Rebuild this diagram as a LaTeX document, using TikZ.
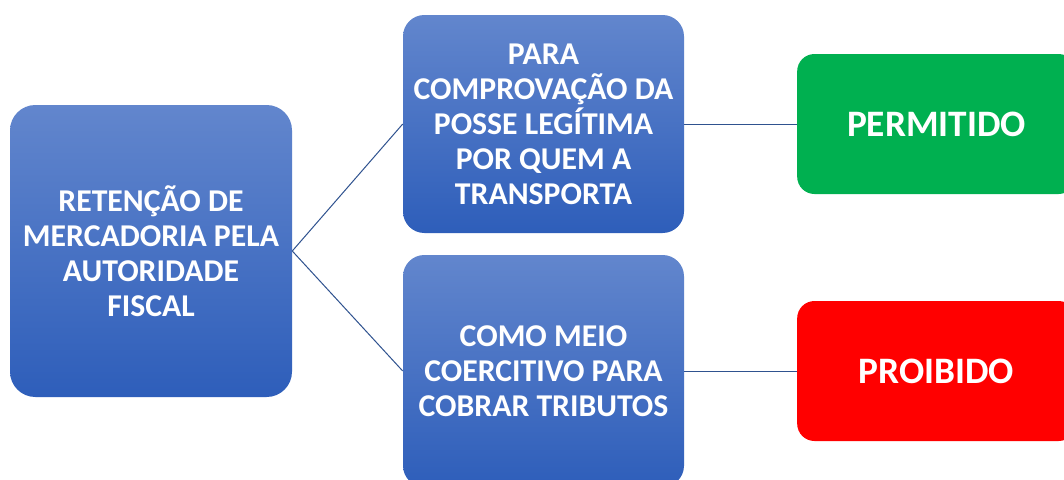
\documentclass[tikz,border=0pt]{standalone}
\usepackage{fontspec}
\setmainfont{Carlito}
\definecolor{bluetop}{RGB}{98,134,205}
\definecolor{bluebot}{RGB}{46,94,186}
\definecolor{linecol}{RGB}{47,82,143}
\definecolor{okgreen}{RGB}{0,176,80}
\definecolor{nored}{RGB}{255,0,0}
\tikzset{
  bluebox/.style={shade, top color=bluetop, bottom color=bluebot, draw=none,
    text=white, font=\bfseries\fontsize{23.8pt}{26.25pt}\selectfont, align=center,
    inner sep=0pt},
  flagbox/.style={draw=none, text=white, font=\bfseries\fontsize{28pt}{32pt}\selectfont,
    inner sep=0pt, minimum width=209pt, minimum height=105pt, rounded corners=13pt},
  link/.style={draw=linecol, line width=0.75pt}
}
\begin{document}
\begin{tikzpicture}[x=0.75pt,y=-0.75pt]
\clip (0,0) rectangle (1064,479);
\fill[white] (0,0) rectangle (1064,479);
\node[bluebox, minimum width=211.5pt, minimum height=219pt, rounded corners=19pt] (L) at (151,251)
  {RETENÇÃO DE\\MERCADORIA PELA\\AUTORIDADE\\FISCAL};
\node[bluebox, minimum width=210.75pt, minimum height=163.5pt, rounded corners=16pt] (T) at (543.5,124)
  {PARA\\COMPROVAÇÃO DA\\POSSE LEGÍTIMA\\POR QUEM A\\TRANSPORTA};
\node[bluebox, minimum width=210.75pt, minimum height=174pt, rounded corners=16pt] (B) at (543.5,371)
  {COMO MEIO\\COERCITIVO PARA\\COBRAR TRIBUTOS};
\node[flagbox, fill=okgreen] (G) at (936.5,124) {PERMITIDO};
\node[flagbox, fill=nored] (R) at (936.5,371) {PROIBIDO};
\draw[link] (L.east) -- (T.west);
\draw[link] (L.east) -- (B.west);
\draw[link] (T.east) -- (G.west);
\draw[link] (B.east) -- (R.west);
\end{tikzpicture}
\end{document}
